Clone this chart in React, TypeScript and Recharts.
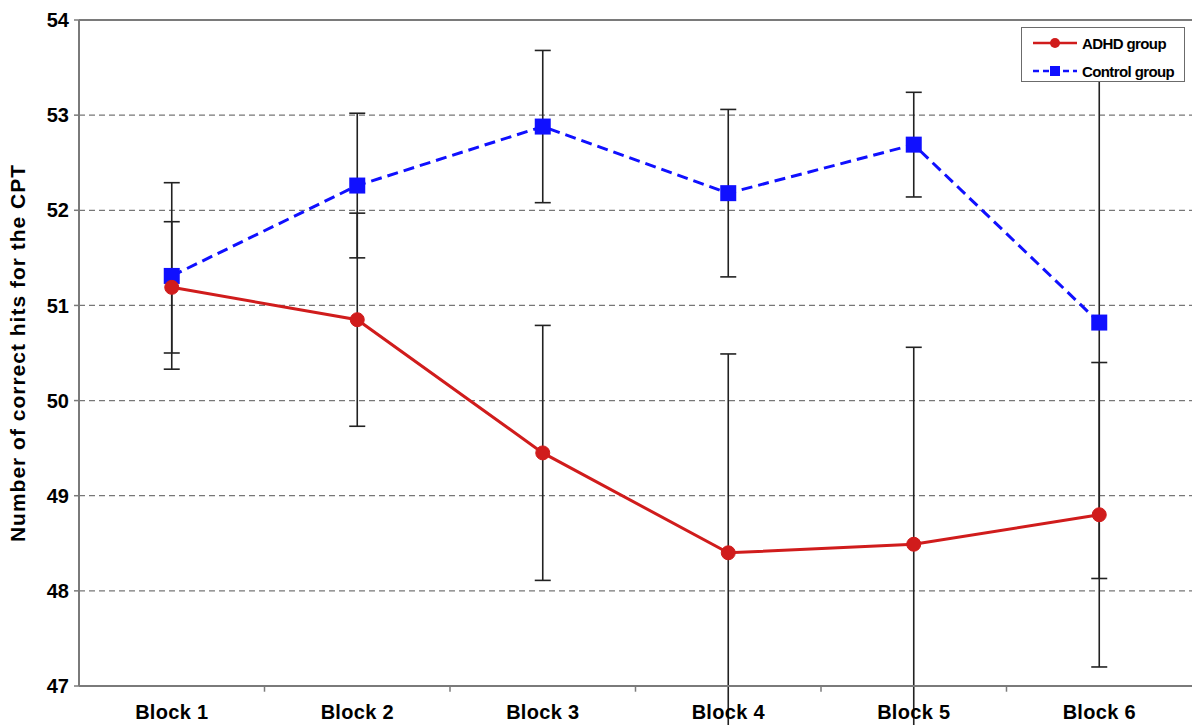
import { LineChart, Line, XAxis, YAxis, CartesianGrid, ErrorBar, Legend, ReferenceLine } from 'recharts'

const categories = ['Block 1', 'Block 2', 'Block 3', 'Block 4', 'Block 5', 'Block 6']
const adhdMeans = [51.19, 50.85, 49.45, 48.4, 48.49, 48.8]
const adhdErrors = [0.69, 1.12, 1.34, 2.09, 2.07, 1.6]
const controlMeans = [51.31, 52.26, 52.88, 52.18, 52.69, 50.82]
const controlErrors = [0.98, 0.76, 0.8, 0.88, 0.55, 2.69]
const yTicks = [47, 48, 49, 50, 51, 52, 53, 54]
const blockBoundaries = [1.5, 2.5, 3.5, 4.5, 5.5]

const data = categories.map((name, i) => ({
  x: i + 1,
  name,
  adhd: adhdMeans[i],
  adhdErr: adhdErrors[i],
  control: controlMeans[i],
  controlErr: controlErrors[i],
}))

const FONT = "Arial, 'Liberation Sans', sans-serif"
const RED = '#d01c1c'
const BLUE = '#1010ff'

function SquareDot(props: any) {
  const { cx, cy } = props
  if (cx == null || cy == null) return null
  return <rect x={cx - 8} y={cy - 8} width={16} height={16} fill={BLUE} />
}

function ChartLegend() {
  return (
    <div
      style={{
        width: 164,
        height: 55,
        border: '1px solid #6b6b6b',
        background: '#fff',
        fontFamily: FONT,
        fontWeight: 'bold',
        fontSize: 15,
        letterSpacing: -0.6,
        boxSizing: 'border-box',
        padding: '5px 0 0 10px',
        whiteSpace: 'nowrap',
      }}
    >
      <div style={{ display: 'flex', alignItems: 'center', height: 20 }}>
        <svg width={46} height={14}>
          <line x1={1} y1={7} x2={45} y2={7} stroke={RED} strokeWidth={2.5} />
          <circle cx={23} cy={7} r={5} fill={RED} />
        </svg>
        <span style={{ marginLeft: 4 }}>ADHD group</span>
      </div>
      <div style={{ display: 'flex', alignItems: 'center', height: 20, marginTop: 8 }}>
        <svg width={46} height={14}>
          <line x1={1} y1={7} x2={45} y2={7} stroke={BLUE} strokeWidth={2.5} strokeDasharray="6 4" />
          <rect x={18} y={2} width={10} height={10} fill={BLUE} />
        </svg>
        <span style={{ marginLeft: 4 }}>Control group</span>
      </div>
    </div>
  )
}

export default function App() {
  return (
    <div style={{ position: 'absolute', left: 0, top: 0, width: 1192, height: 725, background: '#fff' }}>
      <LineChart width={1192} height={725} data={data} margin={{ top: 20, right: 0, left: 0, bottom: 0 }}>
        <CartesianGrid vertical={false} horizontal stroke="#777" strokeDasharray="6 4" strokeWidth={1.3} />
        <XAxis
          dataKey="x"
          type="number"
          domain={[0.5, 6.5]}
          ticks={[1, 2, 3, 4, 5, 6]}
          tickFormatter={(v) => categories[v - 1]}
          height={39}
          tickLine={false}
          tickSize={6}
          tickMargin={13}
          axisLine={{ stroke: '#7a7a7a', strokeWidth: 2 }}
          tick={{ fill: '#000', fontSize: 20, fontWeight: 'bold', fontFamily: FONT, letterSpacing: 0.3 }}
        />
        <YAxis
          domain={[47, 54]}
          ticks={yTicks}
          allowDataOverflow
          width={79}
          tickSize={5}
          tickMargin={5}
          axisLine={{ stroke: '#7a7a7a', strokeWidth: 2 }}
          tickLine={{ stroke: '#7a7a7a', strokeWidth: 1.5 }}
          tick={{ fill: '#000', fontSize: 20, fontWeight: 'bold', fontFamily: FONT }}
          label={{
            value: 'Number of correct hits for the CPT',
            angle: -90,
            position: 'insideLeft',
            offset: 0,
            dx: 18,
            style: { textAnchor: 'middle', fill: '#000', fontSize: 21, fontWeight: 'bold', fontFamily: FONT, letterSpacing: 1 },
          }}
        />
        <ReferenceLine y={54} stroke="#7a7a7a" strokeWidth={2} />
        {blockBoundaries.map((b) => (
          <ReferenceLine
            key={b}
            segment={[{ x: b, y: 47 }, { x: b, y: 46.94 }]}
            stroke="#7a7a7a"
            strokeWidth={1.5}
            ifOverflow="visible"
          />
        ))}
        <Line
          dataKey="control"
          stroke={BLUE}
          strokeWidth={3}
          strokeDasharray="11 6"
          dot={<SquareDot />}
          activeDot={false}
          isAnimationActive={false}
        >
          <ErrorBar dataKey="controlErr" direction="y" width={8} stroke="#222" strokeWidth={1.6} />
        </Line>
        <Line
          dataKey="adhd"
          stroke={RED}
          strokeWidth={3}
          dot={{ r: 7, fill: RED, stroke: RED, strokeWidth: 1 }}
          activeDot={false}
          isAnimationActive={false}
        >
          <ErrorBar dataKey="adhdErr" direction="y" width={8} stroke="#222" strokeWidth={1.6} />
        </Line>
        <Legend
          layout="horizontal"
          verticalAlign="middle"
          align="center"
          wrapperStyle={{ position: 'absolute', left: 1021, top: 27, width: 164 }}
          content={() => <ChartLegend />}
        />
      </LineChart>
    </div>
  )
}
